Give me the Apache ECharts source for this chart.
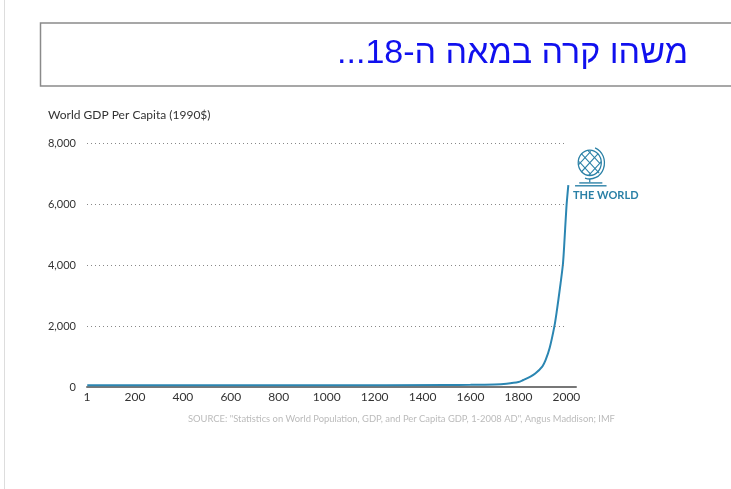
<!DOCTYPE html>
<html>
<head>
<meta charset="utf-8">
<script src="https://cdn.jsdelivr.net/npm/echarts@6/dist/echarts.min.js"></script>
<style>
  html, body { margin: 0; padding: 0; background: #fff; }
  #chart { width: 731px; height: 489px; }
</style>
</head>
<body>
<div id="chart"></div>
<script>
// values (world GDP per capita, 1990$)
const years = [1, 500, 1000, 1500, 1600, 1700, 1750, 1800, 1820, 1850, 1870, 1900, 1913, 1930, 1950, 1960, 1973, 1985, 1990, 2000, 2008];
const gdp = [60, 60, 60, 65, 70, 85, 110, 165, 230, 340, 440, 680, 880, 1280, 2000, 2500, 3250, 4000, 4550, 5900, 6630];
const yTicks = [2000, 4000, 6000, 8000];

const titleText = "\u202Bמשהו קרה במאה ה-18...\u202C";
const chartTitle = "World GDP Per Capita (1990$)";
const sourceText = "SOURCE: \"Statistics on World Population, GDP, and Per Capita GDP, 1-2008 AD\", Angus Maddison; IMF";

const lineColor = "#2b86b2";
const teal = "#2a80a6";

const chart = echarts.init(document.getElementById("chart"), null, { renderer: "canvas" });

const option = {
  backgroundColor: "#fff",
  animation: false,
  grid: { left: 87, top: 143.5, width: 489, height: 243.5, containLabel: false },
  xAxis: {
    type: "value",
    min: 0,
    max: 2040,
    interval: 200,
    axisLine: { show: true, lineStyle: { color: "#777", width: 2 } },
    axisTick: { show: false },
    splitLine: { show: false },
    axisLabel: {
      color: "#333",
      fontFamily: "Lato",
      fontSize: 12,
      margin: 4,
      showMaxLabel: false,
      formatter: (v) => (v === 0 ? "1" : v % 200 === 0 ? String(v) : ""),
    },
  },
  yAxis: {
    type: "value",
    min: 0,
    max: 8000,
    interval: 2000,
    axisLine: { show: false },
    axisTick: { show: false },
    splitLine: { show: false },
    axisLabel: {
      color: "#333",
      fontFamily: "Lato",
      fontSize: 11,
      margin: 11,
      formatter: (v) => v.toLocaleString("en-US"),
    },
  },
  series: [
    {
      type: "line",
      data: years.map((y, i) => [y, gdp[i]]),
      smooth: 0.3,
      showSymbol: false,
      lineStyle: { color: lineColor, width: 2 },
      z: 3,
      markLine: {
        silent: true,
        symbol: "none",
        label: { show: false },
        lineStyle: { color: "#888", type: [1, 3], width: 1 },
        data: yTicks.map((v) => [{ coord: [0, v] }, { coord: [1990, v] }]),
      },
    },
  ],
  graphic: [
    // faint page edge on the left
    { type: "line", shape: { x1: 4.5, y1: 0, x2: 4.5, y2: 489 }, style: { stroke: "#ddd", lineWidth: 1 } },
    // title box
    { type: "rect", shape: { x: 40.5, y: 23, width: 700, height: 63 }, style: { fill: "#fff", stroke: "#8a8a8a", lineWidth: 1.5 } },
    {
      type: "text",
      right: 43,
      top: 37,
      style: { text: titleText, fill: "#1010ee", font: "34px 'Liberation Sans', Arial, sans-serif" },
    },
    {
      type: "text",
      left: 48,
      top: 109,
      style: { text: chartTitle, fill: "#333", font: "12px Lato, sans-serif" },
    },
    {
      type: "text",
      left: 188,
      top: 414,
      style: { text: sourceText, fill: "#bbb", font: "9.4px Lato, sans-serif" },
    },
    // globe icon
    {
      type: "group",
      x: 574,
      y: 149,
      scaleX: 1.05,
      scaleY: 1.15,
      children: [
        { type: "circle", shape: { cx: 15, cy: 12, r: 11 }, style: { fill: "none", stroke: teal, lineWidth: 1.2 } },
        { type: "line", shape: { x1: 7, y1: 4, x2: 24, y2: 21 }, style: { stroke: teal, lineWidth: 1 } },
        { type: "line", shape: { x1: 5, y1: 11, x2: 16, y2: 22 }, style: { stroke: teal, lineWidth: 1 } },
        { type: "line", shape: { x1: 13, y1: 1, x2: 25, y2: 13 }, style: { stroke: teal, lineWidth: 1 } },
        { type: "line", shape: { x1: 7, y1: 20, x2: 23, y2: 4 }, style: { stroke: teal, lineWidth: 1 } },
        { type: "line", shape: { x1: 4, y1: 14, x2: 16, y2: 2 }, style: { stroke: teal, lineWidth: 1 } },
        { type: "line", shape: { x1: 14, y1: 23, x2: 26, y2: 11 }, style: { stroke: teal, lineWidth: 1 } },
        { type: "arc", shape: { cx: 15, cy: 12, r: 14, startAngle: -1.2, endAngle: 1.9 }, style: { fill: "none", stroke: teal, lineWidth: 1.2 } },
        { type: "line", shape: { x1: 15, y1: 26, x2: 15, y2: 29 }, style: { stroke: teal, lineWidth: 1.2 } },
        { type: "line", shape: { x1: 5, y1: 29.5, x2: 27, y2: 29.5 }, style: { stroke: teal, lineWidth: 1.2 } },
        { type: "line", shape: { x1: 1, y1: 32, x2: 31, y2: 32 }, style: { stroke: teal, lineWidth: 1.2 } },
      ],
    },
    {
      type: "text",
      left: 573,
      top: 190,
      style: { text: "THE WORLD", fill: teal, font: "bold 11px Lato, sans-serif" },
    },
  ],
};

chart.setOption(option);
</script>
</body>
</html>
